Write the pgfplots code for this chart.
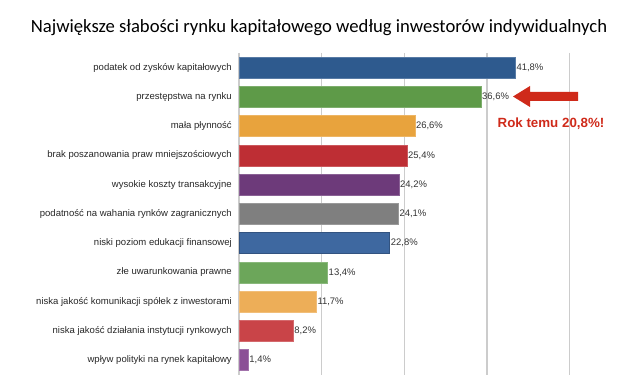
\documentclass[border=0pt]{standalone}
\usepackage{fontspec}
\setmainfont{Liberation Sans}
\newfontfamily\titlefont{Carlito}
\usepackage{pgfplots}
\pgfplotsset{compat=1.18}
\definecolor{c1}{HTML}{2E5A8E}
\definecolor{c2}{HTML}{5E9A48}
\definecolor{c3}{HTML}{E8A33D}
\definecolor{c4}{HTML}{BE2E34}
\definecolor{c5}{HTML}{6D3A7A}
\definecolor{c6}{HTML}{7F7F7F}
\definecolor{c7}{HTML}{3E68A0}
\definecolor{c8}{HTML}{6CA65A}
\definecolor{c9}{HTML}{EDAE58}
\definecolor{c10}{HTML}{C94448}
\definecolor{c11}{HTML}{8B4F96}
\definecolor{ann}{HTML}{CF2A1A}
\begin{document}
\begin{tikzpicture}
\useasboundingbox (0,0) rectangle (480pt,-293.25pt);
\node[font=\titlefont\fontsize{14}{16}\selectfont] at (239.25pt,-20.5pt) {Największe słabości rynku kapitałowego według inwestorów indywidualnych};
\begin{axis}[at={(179.25pt,-39.75pt)}, anchor=north west,
  scale only axis, width=248pt, height=241.3pt,
  xmin=0, xmax=50, ymin=-0.5, ymax=10.5, y dir=reverse,
  xbar, bar width=15.75pt, bar shift=0pt, clip=false,
  xtick={0,12.5,25,37.5,50}, xticklabels={},
  xmajorgrids, major grid style={draw=black!20, line width=0.9pt},
  axis line style={draw=none}, major tick length=0pt,
  ytick={0,...,10},
  yticklabels={podatek od zysków kapitałowych, przestępstwa na rynku, mała płynność, brak poszanowania praw mniejszościowych, wysokie koszty transakcyjne, podatność na wahania rynków zagranicznych, niski poziom edukacji finansowej, złe uwarunkowania prawne, niska jakość komunikacji spółek z inwestorami, niska jakość działania instytucji rynkowych, wpływ polityki na rynek kapitałowy},
  yticklabel style={font=\fontsize{7.15}{8}\selectfont, anchor=east, inner sep=0pt, xshift=-5.25pt, text=black!85},
  nodes near coords={\pgfmathprintnumber[fixed,zerofill,precision=1,use comma,assume math mode=true]{\pgfplotspointmeta}\%},
  nodes near coords style={font=\fontsize{7.1}{8}\selectfont, anchor=west, inner sep=0.6pt, text=black!80},
  every axis plot/.append style={line width=0.5pt},
]
\addplot[fill=c1, draw=c1!80!white] coordinates {(41.8,0)};
\addplot[fill=c2, draw=c2!80!white] coordinates {(36.6,1)};
\addplot[fill=c3, draw=c3!80!white] coordinates {(26.6,2)};
\addplot[fill=c4, draw=c4!80!white] coordinates {(25.4,3)};
\addplot[fill=c5, draw=c5!80!white] coordinates {(24.2,4)};
\addplot[fill=c6, draw=c6!80!white] coordinates {(24.1,5)};
\addplot[fill=c7, draw=c7!80!black] coordinates {(22.8,6)};
\addplot[fill=c8, draw=c8!80!white] coordinates {(13.4,7)};
\addplot[fill=c9, draw=c9!80!white] coordinates {(11.7,8)};
\addplot[fill=c10, draw=c10!80!white] coordinates {(8.2,9)};
\addplot[fill=c11, draw=c11!80!white] coordinates {(1.4,10)};
\end{axis}
\begin{scope}[x=0.75pt,y=-0.75pt]
\fill[ann] (513,96.5) -- (530,86) -- (530,92) -- (578,92) -- (578,101) -- (530,101) -- (530,107) -- cycle;
\node[font=\bfseries\fontsize{10}{11}\selectfont, text=ann] at (551,123.5) {Rok temu 20,8\%!};
\end{scope}
\end{tikzpicture}
\end{document}
